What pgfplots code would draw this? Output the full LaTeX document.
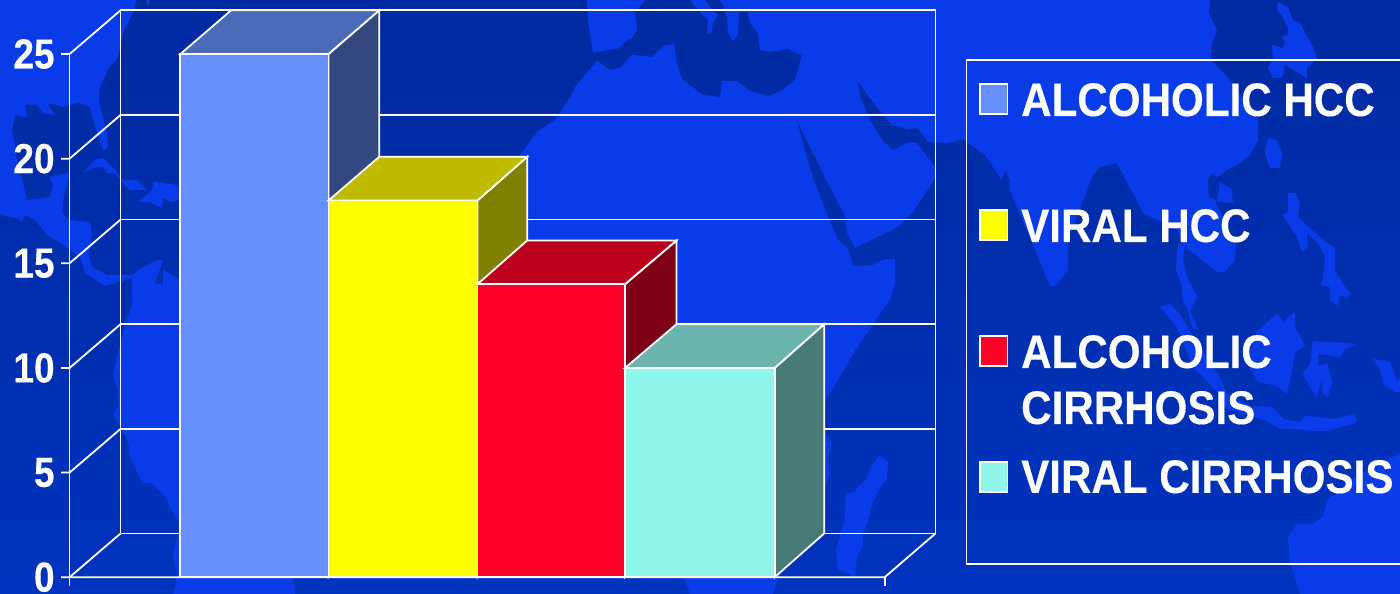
\documentclass[border=0pt]{standalone}
\usepackage{pgfplots}
\pgfplotsset{compat=1.18}
\usepackage{fontspec}
\setmainfont{Liberation Sans}
\newfontfamily\legendfont[FakeStretch=0.897,BoldFeatures={FakeBold=0.25}]{Liberation Sans}
\newfontfamily\tickfont[FakeStretch=0.88,BoldFeatures={FakeBold=0.25}]{Liberation Sans}
\definecolor{land}{RGB}{9,60,232}
\definecolor{seatop}{RGB}{0,42,160}
\definecolor{seamid}{RGB}{0,34,136}
\definecolor{seabot}{RGB}{0,51,189}
\definecolor{blueF}{RGB}{102,144,255}
\definecolor{blueT}{RGB}{74,107,184}
\definecolor{blueS}{RGB}{50,72,127}
\definecolor{yelF}{RGB}{255,255,0}
\definecolor{yelT}{RGB}{191,188,0}
\definecolor{yelS}{RGB}{128,128,0}
\definecolor{redF}{RGB}{255,0,40}
\definecolor{redT}{RGB}{187,0,30}
\definecolor{redS}{RGB}{125,0,20}
\definecolor{cyaF}{RGB}{144,246,236}
\definecolor{cyaT}{RGB}{108,181,174}
\definecolor{cyaS}{RGB}{72,123,118}
\tikzset{
  land/.style={fill=land,draw=none},
  rule/.style={white,line width=1.8pt},
  face/.style={fill=#1,draw=white,line width=1.8pt},
  legendtext/.style={anchor=base west,inner sep=0pt,text=white,font=\legendfont\bfseries\fontsize{47}{47}\selectfont}
}
\pgfplotsset{
  page/.style={at={(0,0)},anchor=south west,scale only axis,width=1400pt,height=594pt}
}
\begin{document}
\begin{tikzpicture}
% World map backdrop and legend panel, in picture units
\begin{axis}[page,hide axis,xmin=0,xmax=1400,ymin=0,ymax=594,y dir=reverse,clip mode=individual]
\fill[top color=seatop,middle color=seamid,bottom color=seabot] (axis cs:0,0) rectangle (axis cs:1400,594);
% Americas
\addplot[land] coordinates {(0,0)(136,0)(135,8)(123,33)(118,57)(107,70)(99,90)(99,103)(107,133)(108,147)(103,151)(93,120)(90,107)(78,103)(63,107)(47,103)(55,115)(43,113)(37,105)(25,105)(27,117)(15,115)(12,130)(17,160)(27,200)(50,197)(53,185)(49,177)(70,172)(63,200)(62,213)(70,220)(90,222)(92,233)(89,257)(92,267)(107,275)(133,275)(138,270)(157,260)(163,260)(155,283)(163,285)(163,270)(180,280)(200,290)(293,579)(295,594)(173,594)(177,577)(173,554)(180,524)(170,507)(167,499)(153,484)(142,482)(130,457)(128,441)(120,427)(113,414)(118,407)(118,391)(113,374)(120,344)(125,324)(132,306)(132,278)(105,286)(85,273)(80,257)(63,245)(47,235)(35,220)(25,215)(22,222)(17,218)(0,215)} -- cycle;
\addplot[land] coordinates {(147,0)(150,0)(147,7)} -- cycle;
% Caribbean islands
\addplot[land] coordinates {(83,173)(95,160)(103,158)(115,170)(123,180)(137,180)(147,190)(130,190)(122,182)(115,173)(107,173)(103,167)(93,168)} -- cycle;
\addplot[land] coordinates {(138,202)(152,190)(153,182)(178,185)(180,200)(170,202)(163,197)(162,208)(150,202)} -- cycle;
% Africa and Asia
\addplot[land] coordinates {(597,61)(610,70)(620,68)(632,55)(653,57)(663,46)(674,44)(677,65)(683,80)(703,95)(720,97)(722,81)(737,81)(750,91)(768,96)(783,90)(795,80)(802,55)(788,49)(770,52)(760,50)(758,33)(750,23)(748,12)(739,12)(738,35)(733,41)(728,32)(727,17)(722,3)(719,0)(1210,0)(1209,13)(1217,30)(1212,43)(1211,60)(1230,80)(1258,120)(1258,140)(1250,155)(1240,163)(1227,170)(1217,177)(1212,173)(1208,180)(1209,197)(1215,200)(1236,245)(1235,260)(1225,272)(1217,272)(1183,245)(1177,230)(1143,213)(1133,193)(1117,163)(1100,167)(1093,175)(1068,240)(1068,270)(1055,286)(1050,286)(1010,190)(1010,180)(1005,170)(1002,180)(985,155)(963,139)(948,143)(930,142)(928,142)(918,128)(907,129)(891,124)(883,115)(858,82)(860,97)(870,120)(882,140)(893,150)(907,143)(917,143)(935,167)(936,177)(913,212)(898,227)(855,248)(847,233)(845,215)(827,182)(818,163)(803,133)(796,118)(813,178)(828,217)(838,240)(848,248)(853,266)(873,265)(885,259)(895,259)(895,283)(890,300)(875,321)(853,354)(825,402)(815,420)(825,432)(832,444)(828,457)(830,474)(825,487)(778,579)(773,594)(690,594)(685,579)(600,400)(480,250)(520,155)(537,132)(555,120)(570,98)(575,87)} -- cycle;
% Europe
\addplot[land] coordinates {(587,0)(588,20)(593,53)(607,50)(618,49)(627,40)(631,39)(637,30)(635,13)(645,0)} -- cycle;
\addplot[land] coordinates {(690,0)(700,12)(708,20)(707,34)(712,32)(713,23)(718,15)(712,10)(705,0)} -- cycle;
% Madagascar
\addplot[land] coordinates {(880,455)(888,462)(887,479)(881,486)(872,504)(868,521)(863,534)(863,546)(857,557)(855,577)(838,569)(836,551)(845,517)(846,494)(855,492)(858,486)(865,481)(874,462)} -- cycle;
% East Asian and Indonesian islands
\addplot[land] coordinates {(1268,138)(1277,140)(1282,153)(1280,168)(1270,168)(1265,153)} -- cycle;
\addplot[land] coordinates {(1220,182)(1232,190)(1233,203)(1217,202)} -- cycle;
\addplot[land] coordinates {(1278,2)(1288,7)(1293,20)(1300,23)(1313,47)(1317,59)(1307,68)(1307,78)(1297,72)(1285,65)(1282,78)(1273,78)(1268,68)(1273,58)(1272,45)(1283,48)(1285,42)(1282,37)(1288,35)(1288,28)(1282,15)(1277,10)} -- cycle;
\addplot[land] coordinates {(1288,193)(1295,193)(1300,203)(1298,217)(1323,240)(1335,248)(1335,270)(1345,287)(1351,293)(1348,298)(1340,295)(1338,306)(1330,300)(1330,287)(1320,285)(1323,278)(1325,257)(1318,243)(1307,233)(1308,247)(1302,252)(1297,237)(1283,215)(1288,212)} -- cycle;
\addplot[land] coordinates {(1178,243)(1176,270)(1182,287)(1183,300)(1188,311)(1193,329)(1198,329)(1190,311)(1197,297)(1198,298)(1187,277)(1183,260)(1185,245)} -- cycle;
\addplot[land] coordinates {(1160,307)(1170,304)(1180,314)(1193,336)(1220,377)(1227,394)(1227,409)(1217,391)(1193,367)(1177,327)} -- cycle;
\addplot[land] coordinates {(1227,394)(1250,406)(1273,407)(1283,419)(1300,422)(1305,416)(1335,419)(1355,414)(1357,421)(1353,424)(1345,426)(1327,431)(1313,431)(1297,429)(1280,429)(1267,421)(1250,416)(1227,409)} -- cycle;
\addplot[land] coordinates {(1248,357)(1257,331)(1278,313)(1283,322)(1295,312)(1295,327)(1305,346)(1295,352)(1292,371)(1287,394)(1277,386)(1258,382)(1250,369)} -- cycle;
\addplot[land] coordinates {(1313,341)(1357,344)(1345,349)(1340,357)(1318,354)(1318,366)(1328,364)(1332,384)(1328,397)(1323,394)(1322,379)(1317,397)(1312,391)(1303,374)(1310,364)} -- cycle;
\addplot[land] coordinates {(1373,359)(1390,362)(1397,381)(1400,379)(1400,392)(1395,392)(1383,384)(1380,369)} -- cycle;
% Australia
\addplot[land] coordinates {(1400,454)(1382,462)(1360,474)(1328,499)(1323,517)(1313,524)(1297,524)(1288,537)(1290,561)(1300,594)(1400,594)} -- cycle;
% Legend panel, open at the right edge
\addplot[rule] coordinates {(1410,60)(966.5,60)(966.5,564)(1410,564)};
\addplot[face=blueF] coordinates {(980,84)(1007.5,84)(1007.5,114)(980,114)} -- cycle;
\addplot[face=yelF] coordinates {(980,210)(1007.5,210)(1007.5,240)(980,240)} -- cycle;
\addplot[face=redF] coordinates {(980,336)(1007.5,336)(1007.5,366)(980,366)} -- cycle;
\addplot[face=cyaF] coordinates {(980,462)(1007.5,462)(1007.5,492)(980,492)} -- cycle;
\node[legendtext] at (axis cs:1021,116) {ALCOHOLIC HCC};
\node[legendtext] at (axis cs:1021,242) {VIRAL HCC};
\node[legendtext] at (axis cs:1021,368) {ALCOHOLIC};
\node[legendtext] at (axis cs:1021,424) {CIRRHOSIS};
\node[legendtext] at (axis cs:1021,493) {VIRAL CIRRHOSIS};
\end{axis}
% Pseudo-3D column chart: x in picture units, y in data units
\begin{axis}[page,xmin=0,xmax=1400,ymin=-0.798,ymax=27.582,clip=false,
  axis line style={draw=none},xtick=\empty,
  ytick={0,5,10,15,20,25},major tick length=0pt,
  /pgf/number format/assume math mode=true,
  yticklabel style={anchor=east,inner ysep=0pt,xshift=58pt,text=white,font=\tickfont\bfseries\fontsize{42}{42}\selectfont}]
% back wall and its gridlines
\addplot[rule] coordinates {(120.5,2.09)(120.5,27.09)(935.5,27.09)(935.5,2.09)(120.5,2.09)};
\addplot[rule] coordinates {(120.5,7.09)(935.5,7.09)};
\addplot[rule] coordinates {(120.5,12.09)(935.5,12.09)};
\addplot[rule] coordinates {(120.5,17.09)(935.5,17.09)};
\addplot[rule] coordinates {(120.5,22.09)(935.5,22.09)};
% side wall diagonals and y ticks
\addplot[rule] coordinates {(61,0)(69.5,0)(120.5,2.09)};
\addplot[rule] coordinates {(61,5)(69.5,5)(120.5,7.09)};
\addplot[rule] coordinates {(61,10)(69.5,10)(120.5,12.09)};
\addplot[rule] coordinates {(61,15)(69.5,15)(120.5,17.09)};
\addplot[rule] coordinates {(61,20)(69.5,20)(120.5,22.09)};
\addplot[rule] coordinates {(61,25)(69.5,25)(120.5,27.09)};
\addplot[rule] coordinates {(69.5,25)(69.5,-0.41)};
% floor edge and front baseline
\addplot[rule] coordinates {(69.5,0)(884.7,0)(935.5,2.09)};
\addplot[rule] coordinates {(884.7,0)(884.7,-0.41)};
% ALCOHOLIC HCC
\addplot[face=blueS] coordinates {(328.4,0)(379.2,2.09)(379.2,27.09)(328.4,25)} -- cycle;
\addplot[face=blueT] coordinates {(180.3,25)(328.4,25)(379.2,27.09)(231.1,27.09)} -- cycle;
\addplot[ybar,bar width=148.1pt,bar shift=0pt,face=blueF] coordinates {(254.35,25)};
% VIRAL HCC
\addplot[face=yelS] coordinates {(477.4,0)(527.2,2.09)(527.2,20.09)(477.4,18)} -- cycle;
\addplot[face=yelT] coordinates {(328.4,18)(477.4,18)(527.2,20.09)(379.2,20.09)} -- cycle;
\addplot[ybar,bar width=149pt,bar shift=0pt,face=yelF] coordinates {(402.9,18)};
% ALCOHOLIC CIRRHOSIS
\addplot[face=redS] coordinates {(625,0)(676.5,2.09)(676.5,16.09)(625,14)} -- cycle;
\addplot[face=redT] coordinates {(477.4,14)(625,14)(676.5,16.09)(527.2,16.09)} -- cycle;
\addplot[ybar,bar width=147.6pt,bar shift=0pt,face=redF] coordinates {(551.2,14)};
% VIRAL CIRRHOSIS
\addplot[face=cyaS] coordinates {(774.7,0)(824.2,2.09)(824.2,12.09)(774.7,10)} -- cycle;
\addplot[face=cyaT] coordinates {(625,10)(774.7,10)(824.2,12.09)(676.5,12.09)} -- cycle;
\addplot[ybar,bar width=149.7pt,bar shift=0pt,face=cyaF] coordinates {(699.85,10)};
\end{axis}
\end{tikzpicture}
\end{document}
